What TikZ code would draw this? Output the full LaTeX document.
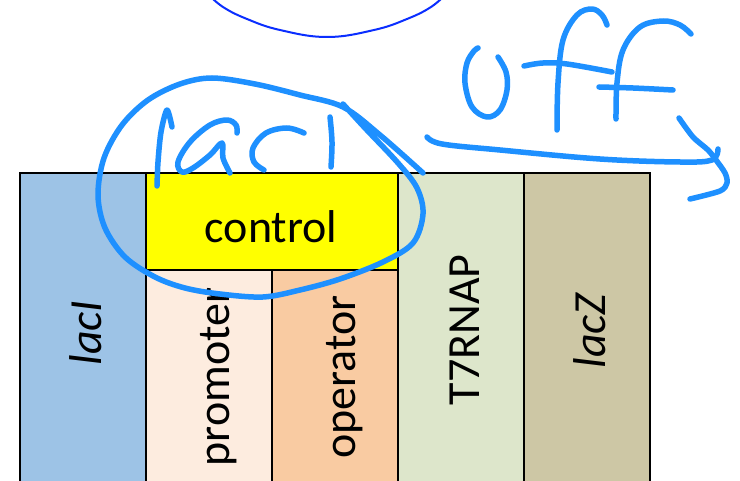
\documentclass[tikz,border=0pt]{standalone}
\usepackage{fontspec}
\setmainfont{Carlito}
\definecolor{cLacI}{HTML}{9DC3E6}
\definecolor{cProm}{HTML}{FDECDF}
\definecolor{cOper}{HTML}{F9CBA2}
\definecolor{cT7}{HTML}{DDE6CB}
\definecolor{cLacZ}{HTML}{CDC7A5}
\definecolor{cCtrl}{HTML}{FFFF00}
\definecolor{inkblue}{HTML}{1E90FF}
\definecolor{penblue}{HTML}{0A2EFF}
\begin{document}
\begin{tikzpicture}[x=1pt,y=-1pt,
  blk/.style={draw=black,line width=1.6pt},
  lbl/.style={font=\fontsize{46}{50}\selectfont,inner sep=0pt,text=black},
  ink/.style={draw=inkblue,line width=5.5pt,line cap=round,line join=round},
  pen/.style={draw=penblue,line width=2pt}
]
\clip (0,0) rectangle (740,481);
\fill[white] (0,0) rectangle (740,481);
% blocks
\draw[blk,fill=cLacI] (20,173) rectangle (146,500);
\draw[blk,fill=cProm] (146,270) rectangle (272,500);
\draw[blk,fill=cOper] (272,270) rectangle (398,500);
\draw[blk,fill=cT7] (398,173) rectangle (524,500);
\draw[blk,fill=cLacZ] (524,173) rectangle (650,500);
\draw[blk,fill=cCtrl] (146,173) rectangle (398,270);
% labels
\node[lbl] (control) at (271,227) {control};
\node[lbl,rotate=90] (lacI) at (86,333) {\itshape lacI};
\node[lbl,rotate=90] (promoter) at (219,377) {promoter};
\node[lbl,rotate=90] (operator) at (345,377) {operator};
\node[lbl,rotate=90] (T7RNAP) at (465,330) {T7RNAP};
\node[lbl,rotate=90] (lacZ) at (590,331) {\itshape lacZ};
% top circle (dark blue pen)
\draw[pen] plot[smooth,tension=0.7] coordinates {(208,-6) (223,7) (247,19) (280,30) (327,37) (374,30) (407,19) (431,7) (446,-6)};
% handwritten lacI
\draw[ink] plot[smooth,tension=0.5] coordinates {(157,186) (158,162) (161,132) (167,110) (172,127)};
\draw[ink] plot[smooth,tension=0.6] coordinates {(237,133) (236,125) (227,120) (210,125) (190,142) (178,162) (182,172) (193,168) (210,155) (222,143) (223,158) (230,173)};
\draw[ink] plot[smooth,tension=0.6] coordinates {(304,133) (287,128) (266,133) (253,148) (254,162) (264,170)};
\draw[ink] plot[smooth,tension=0.6] coordinates {(330,117) (332,142) (331,167)};
% ellipse around lacI
\draw[ink] plot[smooth,tension=0.55] coordinates {(343,104) (365,128) (398,163) (417,188) (423,214) (413,243) (383,262) (340,279) (300,290) (263,297) (220,294) (185,288) (155,277) (125,257) (105,228) (98,195) (104,158) (122,125) (148,100) (180,84) (212,78) (255,84) (300,95) (343,107) (380,135) (423,173)};
% off
\draw[ink] plot[smooth,tension=0.6] coordinates {(478,48) (474,51) (467,63) (465,83) (472,107) (487,117) (500,110) (507,90) (506,72) (498,57)};
\draw[ink] plot[smooth,tension=0.6] coordinates {(557,130) (558,83) (563,40) (577,15) (592,9) (602,15) (607,25)};
\draw[ink] plot[smooth,tension=0.6] coordinates {(524,66) (543,63) (567,64) (612,72)};
\draw[ink] plot[smooth,tension=0.6] coordinates {(616,119) (617,83) (623,50) (640,27) (663,21) (680,25) (691,34)};
\draw[ink] plot[smooth,tension=0.6] coordinates {(599,87) (633,88) (673,90)};
% arrow
\draw[ink] plot[smooth,tension=0.6] coordinates {(427,137) (442,144) (500,150) (600,159) (680,162) (712,160) (718,149)};
\draw[ink] plot[smooth,tension=0.5] coordinates {(679,118) (693,137) (708,150) (716,160) (725,173) (727,183) (720,191) (690,199)};
\end{tikzpicture}
\end{document}
